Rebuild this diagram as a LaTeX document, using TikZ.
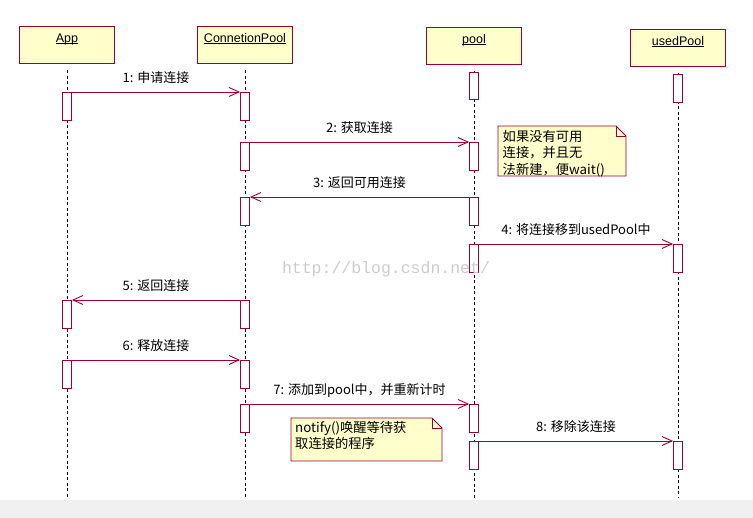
\documentclass[tikz,border=0pt]{standalone}
\usepackage{fontspec}
\setmainfont{Noto Sans CJK SC}
\newfontfamily\wmfont{Liberation Mono}
\newfontfamily\hdrfont{Liberation Sans}
\usetikzlibrary{arrows.meta,calc}
\definecolor{mar}{RGB}{153,0,51}
\definecolor{hdrfill}{RGB}{255,255,204}
\definecolor{stripc}{RGB}{240,240,240}
\definecolor{wmc}{RGB}{205,205,205}
\newcommand\ulx[1]{\setbox0\hbox{#1}\rlap{\rule[-1.4pt]{\wd0}{0.7pt}}\box0}
\begin{document}
\begin{tikzpicture}[x=1pt,y=-1pt,
  font=\fontsize{13}{16.5}\selectfont,
  hdr/.style={draw=mar, fill=hdrfill, line width=0.9pt, minimum width=95pt, minimum height=37pt, inner sep=0pt},
  hdrtext/.style={anchor=base, inner sep=0pt, font=\hdrfont\fontsize{12.5}{14}\selectfont},
  act/.style={draw=mar, fill=white, line width=0.9pt, minimum width=9pt, minimum height=28pt, inner sep=0pt, anchor=north},
  lifeline/.style={draw=black, line width=0.8pt, dash pattern=on 3pt off 2.5pt, shorten <=7pt},
  msg/.style={draw=mar, line width=0.9pt, -{Straight Barb[length=10pt,width=9pt]}},
  mlabel/.style={anchor=base, yshift=9pt, inner sep=0pt},
  note/.style={draw=mar, fill=hdrfill, line width=0.9pt},
  notetext/.style={anchor=north west, inner sep=0pt, align=left}
]
\useasboundingbox (0,0) rectangle (753,518);
\fill[white] (0,0) rectangle (753,518);
\fill[stripc] (0,500) rectangle (753,518);

% headers
\node[hdr] (app) at (67,44.5) {};
\node[hdr] (cp) at (245,44.5) {};
\node[hdr] (pool) at (474,45.5) {};
\node[hdr] (used) at (678,47.5) {};
\node[hdrtext] (appt) at ($(app.north)+(0,16.5)$) {\ulx{App}};
\node[hdrtext] (cpt) at ($(cp.north)+(0,16.5)$) {\ulx{ConnetionPool}};
\node[hdrtext] (poolt) at ($(pool.north)+(0,16.5)$) {\ulx{pool}};
\node[hdrtext] (usedt) at ($(used.north)+(0,16.5)$) {\ulx{usedPool}};

% lifelines
\coordinate (appe) at (67,498);
\coordinate (cpe) at (245,498);
\coordinate (poole) at (474,498);
\coordinate (usede) at (678,498);
\draw[lifeline] (app) -- (appe);
\draw[lifeline] (cp) -- (cpe);
\draw[lifeline] (pool) -- (poole);
\draw[lifeline] (used) -- (usede);

% activation boxes
\node[act, minimum height=27pt] (p0) at (474,72) {};
\node[act] (u0) at (678,74) {};
\node[act] (a1) at (67,92) {};
\node[act] (c1) at (245,92) {};
\node[act] (c2) at (245,142) {};
\node[act] (p2) at (474,142) {};
\node[act] (p3) at (474,197) {};
\node[act] (c3) at (245,197) {};
\node[act] (p4) at (474,244) {};
\node[act] (u4) at (678,244) {};
\node[act] (c5) at (245,300) {};
\node[act] (a5) at (67,300) {};
\node[act] (a6) at (67,360) {};
\node[act] (c6) at (245,360) {};
\node[act] (c7) at (245,404) {};
\node[act] (p7) at (474,404) {};
\node[act] (p8) at (474,441) {};
\node[act] (u8) at (678,441) {};

% messages
\draw[msg] (a1.north east) -- node[mlabel] {1: 申请连接} (c1.north west);
\draw[msg] (c2.north east) -- node[mlabel] {2: 获取连接} (p2.north west);
\draw[msg] (p3.north west) -- node[mlabel] {3: 返回可用连接} (c3.north east);
\draw[msg] (p4.north east) -- node[mlabel] {4: 将连接移到usedPool中} (u4.north west);
\draw[msg] (c5.north west) -- node[mlabel] {5: 返回连接} (a5.north east);
\draw[msg] (a6.north east) -- node[mlabel] {6: 释放连接} (c6.north west);
\draw[msg] (c7.north east) -- node[mlabel] {7: 添加到pool中，并重新计时} (p7.north west);
\draw[msg] (p8.north east) -- node[mlabel] {8: 移除该连接} (u8.north west);

% note 1
\coordinate (n1a) at (498,126);
\coordinate (n1b) at (626,176);
\draw[note] (n1a) -- ($(n1a -| n1b)+(-10,0)$) -- ($(n1a -| n1b)+(0,10)$) -- (n1b) -- (n1a |- n1b) -- cycle;
\draw[draw=mar, line width=0.9pt] ($(n1a -| n1b)+(-10,0)$) -- ($(n1a -| n1b)+(-10,10)$) -- ($(n1a -| n1b)+(0,10)$);
\node[notetext, font=\fontsize{13.3}{16.4}\selectfont] (n1) at (502.5,130) {如果没有可用\\连接，并且无\\法新建，便wait()};

% note 2
\coordinate (n2a) at (291,418);
\coordinate (n2b) at (442,461);
\draw[note] (n2a) -- ($(n2a -| n2b)+(-10,0)$) -- ($(n2a -| n2b)+(0,10)$) -- (n2b) -- (n2a |- n2b) -- cycle;
\draw[draw=mar, line width=0.9pt] ($(n2a -| n2b)+(-10,0)$) -- ($(n2a -| n2b)+(-10,10)$) -- ($(n2a -| n2b)+(0,10)$);
\node[notetext, font=\fontsize{13.3}{15.6}\selectfont] (n2) at (295,421.5) {notify()唤醒等待获\\取连接的程序};

% watermark
\node[text=wmc, font=\wmfont\fontsize{16.5}{16.5}\selectfont, inner sep=0pt] (wm) at (386,269) {http://blog.csdn.net/};
\end{tikzpicture}
\end{document}
